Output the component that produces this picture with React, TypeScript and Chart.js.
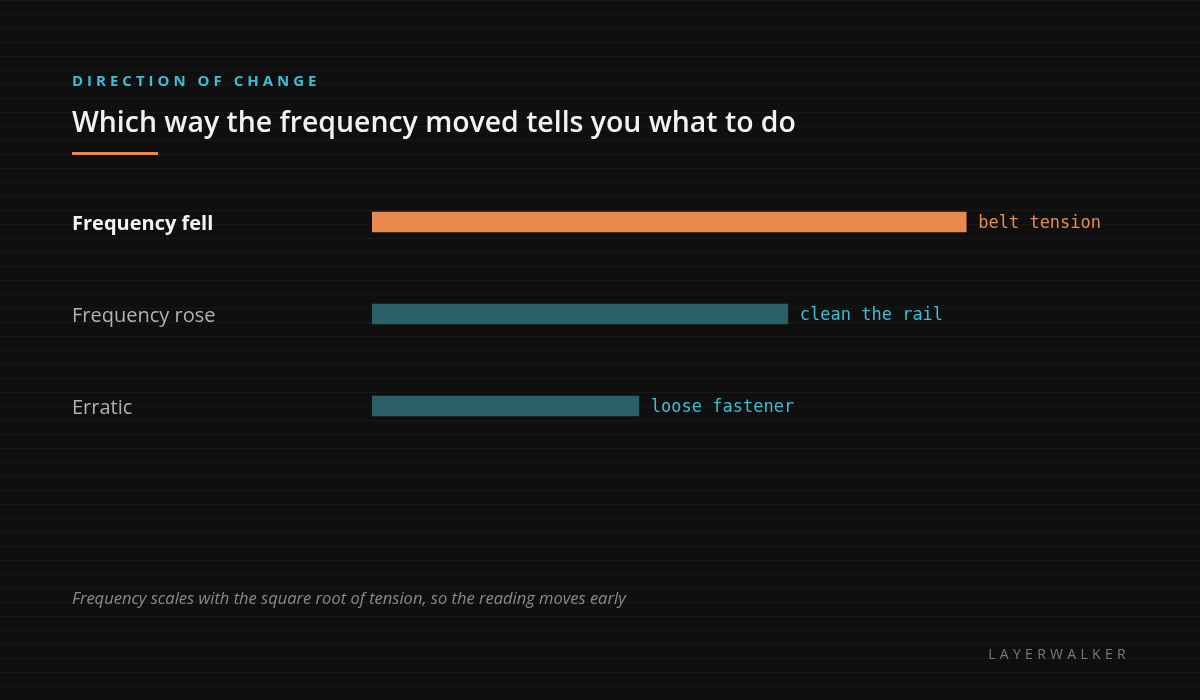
import React, { useEffect, useRef } from "react";
import { Chart, registerables } from "chart.js";
Chart.register(...registerables);

const categories = ["Frequency fell", "Frequency rose", "Erratic"];
const values = [78.6, 55, 35.3];
const actions = ["belt tension", "clean the rail", "loose fastener"];
const barColors = ["#e8894d", "#2b5f67", "#2b5f67"];
const actionColors = ["#e68c52", "#3cbfd4", "#3cbfd4"];
const labelColors = ["#f4f4f4", "#b2b2b2", "#b2b2b2"];
const labelWeights = ["bold", "normal", "normal"];
const xMax = 100;

const SANS = "'Open Sans', 'Noto Sans', sans-serif";
const MONO = "'DejaVu Sans Mono', 'Liberation Mono', monospace";

const actionLabels = {
  id: "actionLabels",
  afterDatasetsDraw(chart: any) {
    const ctx = chart.ctx;
    const meta = chart.getDatasetMeta(0);
    ctx.save();
    ctx.font = `17px ${MONO}`;
    ctx.textBaseline = "middle";
    ctx.textAlign = "left";
    meta.data.forEach((bar: any, i: number) => {
      ctx.fillStyle = actionColors[i];
      ctx.fillText(actions[i], bar.x + 12, bar.y + 2);
    });
    ctx.restore();
  },
};

export default function App() {
  const ref = useRef<HTMLCanvasElement>(null);
  useEffect(() => {
    if (!ref.current) return;
    const chart = new Chart(ref.current, {
      type: "bar",
      data: {
        labels: categories,
        datasets: [
          {
            data: values,
            backgroundColor: barColors,
            barThickness: 20,
            borderWidth: 0,
          },
        ],
      },
      options: {
        indexAxis: "y",
        animation: false,
        responsive: false,
        devicePixelRatio: 1,
        layout: { padding: { left: 72, right: 72, top: 176, bottom: 248 } },
        plugins: { legend: { display: false }, tooltip: { enabled: false } },
        scales: {
          x: { min: 0, max: xMax, display: false },
          y: {
            grid: { display: false },
            border: { display: false },
            afterFit: (s: any) => {
              s.width = 300;
            },
            ticks: {
              crossAlign: "far",
              padding: 0,
              labelOffset: 2,
              color: (c: any) => labelColors[c.index],
              font: (c: any) => ({
                family: SANS,
                size: 20,
                weight: labelWeights[c.index] as any,
              }),
            },
          },
        },
      },
      plugins: [actionLabels],
    });
    return () => chart.destroy();
  }, []);

  return (
    <div
      style={{
        position: "fixed",
        left: 0,
        top: 0,
        width: 1200,
        height: 700,
        backgroundColor: "#0f0f0f",
        backgroundImage:
          "linear-gradient(to bottom, #181818 0px, #181818 1px, transparent 1px, transparent 14px)",
        backgroundSize: "100% 14px",
        fontFamily: SANS,
        overflow: "hidden",
      }}
    >
      <canvas
        ref={ref}
        width={1200}
        height={700}
        style={{ position: "absolute", left: 0, top: 0, width: 1200, height: 700 }}
      />
      <div
        style={{
          position: "absolute",
          left: 72,
          top: 70,
          fontSize: 15,
          fontWeight: 700,
          letterSpacing: 4,
          color: "#3cbfd4",
          lineHeight: "20px",
        }}
      >
        DIRECTION OF CHANGE
      </div>
      <div
        style={{
          position: "absolute",
          left: 72,
          top: 102,
          fontSize: 28.4,
          fontWeight: 600,
          color: "#f2f2f2",
          lineHeight: "38px",
          whiteSpace: "nowrap",
        }}
      >
        Which way the frequency moved tells you what to do
      </div>
      <div
        style={{
          position: "absolute",
          left: 72,
          top: 152,
          width: 86,
          height: 3,
          background: "#e8894d",
        }}
      />
      <div
        style={{
          position: "absolute",
          left: 72,
          top: 587,
          fontSize: 16.5,
          fontStyle: "italic",
          color: "#8a8a8a",
          lineHeight: "22px",
          whiteSpace: "nowrap",
        }}
      >
        Frequency scales with the square root of tension, so the reading moves early
      </div>
      <div
        style={{
          position: "absolute",
          right: 70,
          top: 644,
          fontSize: 14,
          letterSpacing: 4.3,
          color: "#7a7a7a",
          lineHeight: "20px",
        }}
      >
        LAYERWALKER
      </div>
    </div>
  );
}
